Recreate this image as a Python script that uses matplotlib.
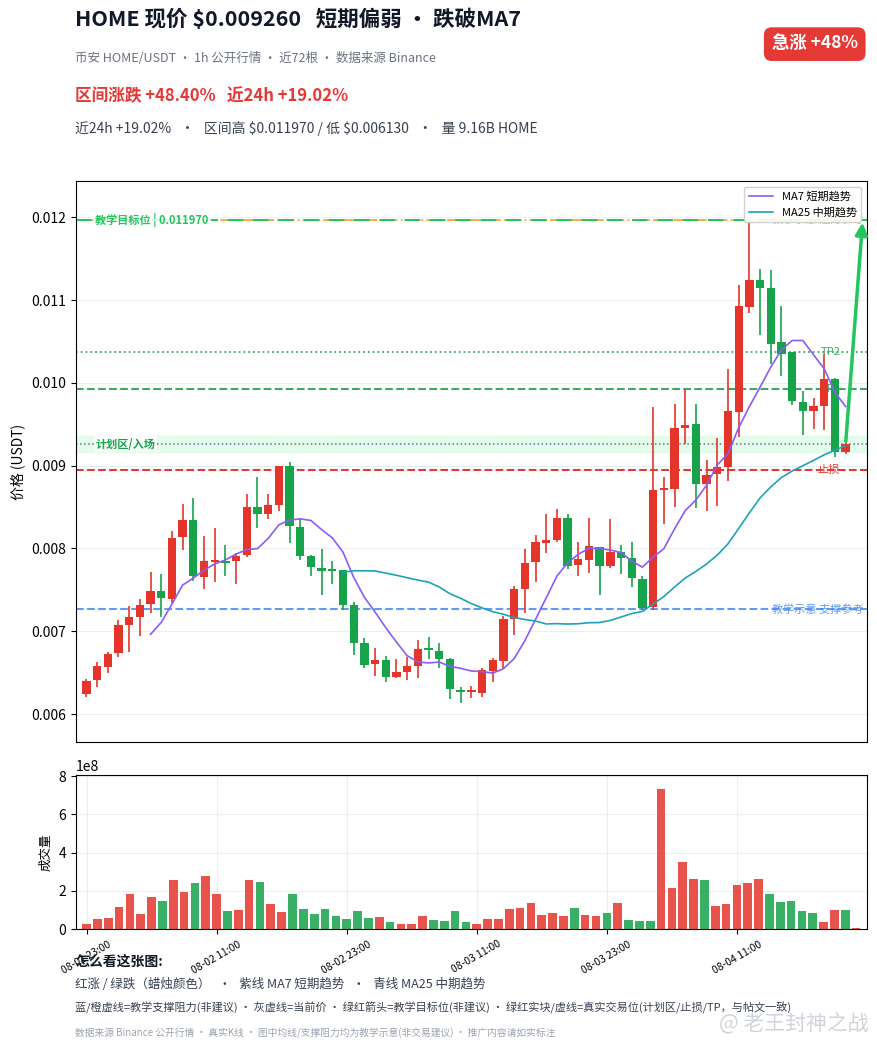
import numpy as np
import pandas as pd
import matplotlib
matplotlib.use("Agg")
import matplotlib.pyplot as plt

plt.rcParams['font.family'] = ['Noto Sans CJK SC', 'DejaVu Sans']
plt.rcParams['axes.unicode_minus'] = False

# 1h candles HOME/USDT, 72 bars from 08-01 23:00
opens = [0.006241, 0.006410, 0.006567, 0.006736, 0.007074, 0.007171, 0.007328, 0.007485, 0.007388, 0.008133,
         0.008338, 0.007650, 0.007831, 0.007843, 0.007843, 0.007916, 0.008495, 0.008422, 0.008519, 0.008990,
         0.008253, 0.007903, 0.007759, 0.007747, 0.007734, 0.007314, 0.006855, 0.006602, 0.006650, 0.006445,
         0.006505, 0.006578, 0.006795, 0.006759, 0.006662, 0.006290, 0.006266, 0.006253, 0.006519, 0.006640,
         0.007145, 0.007507, 0.007831, 0.008060, 0.008097, 0.008362, 0.007795, 0.007855, 0.008012, 0.007783,
         0.007952, 0.007879, 0.007626, 0.007290, 0.008710, 0.008722, 0.009459, 0.009507, 0.008783, 0.008903,
         0.008988, 0.009650, 0.010916, 0.011241, 0.011145, 0.010493, 0.010374, 0.009771, 0.009662, 0.009722,
         0.010048, 0.009169]
highs = [0.006422, 0.006628, 0.006748, 0.007135, 0.007304, 0.007388, 0.007714, 0.007690, 0.008205, 0.008531,
         0.008604, 0.008145, 0.008241, 0.008036, 0.007940, 0.008652, 0.008857, 0.008652, 0.008990, 0.009038,
         0.008362, 0.007916, 0.007988, 0.007843, 0.007734, 0.007350, 0.006916, 0.006795, 0.006698, 0.006662,
         0.006686, 0.006891, 0.006928, 0.006855, 0.006674, 0.006326, 0.006338, 0.006555, 0.006676, 0.007181,
         0.007543, 0.007988, 0.008157, 0.008422, 0.008471, 0.008410, 0.008072, 0.008362, 0.008012, 0.008350,
         0.008036, 0.008072, 0.007662, 0.009710, 0.008867, 0.009747, 0.009928, 0.009747, 0.009072, 0.009338,
         0.010169, 0.011181, 0.011970, 0.011374, 0.011362, 0.010928, 0.010374, 0.009903, 0.009819, 0.010350,
         0.010060, 0.009278]
lows = [0.006205, 0.006326, 0.006495, 0.006688, 0.006748, 0.006941, 0.007219, 0.007171, 0.007340, 0.007976,
        0.007602, 0.007505, 0.007590, 0.007662, 0.007565, 0.007891, 0.008241, 0.008350, 0.008447, 0.008060,
        0.007855, 0.007662, 0.007433, 0.007565, 0.007252, 0.006710, 0.006553, 0.006457, 0.006384, 0.006433,
        0.006409, 0.006433, 0.006662, 0.006553, 0.006181, 0.006130, 0.006193, 0.006205, 0.006386, 0.006555,
        0.006952, 0.007217, 0.007590, 0.007940, 0.008072, 0.007747, 0.007662, 0.007698, 0.007433, 0.007759,
        0.007686, 0.007529, 0.007253, 0.007253, 0.008290, 0.008505, 0.009266, 0.008493, 0.008457, 0.008517,
        0.008819, 0.009350, 0.010843, 0.010578, 0.010228, 0.010084, 0.009734, 0.009372, 0.009445, 0.009433,
        0.009109, 0.009145]
closes = [0.006398, 0.006579, 0.006724, 0.007074, 0.007171, 0.007316, 0.007485, 0.007400, 0.008121, 0.008338,
          0.007662, 0.007843, 0.007843, 0.007819, 0.007903, 0.008495, 0.008422, 0.008519, 0.008990, 0.008266,
          0.007903, 0.007771, 0.007722, 0.007722, 0.007312, 0.006855, 0.006590, 0.006650, 0.006445, 0.006505,
          0.006578, 0.006783, 0.006771, 0.006662, 0.006302, 0.006266, 0.006278, 0.006531, 0.006652, 0.007145,
          0.007507, 0.007819, 0.008072, 0.008097, 0.008362, 0.007783, 0.007867, 0.008024, 0.007783, 0.007952,
          0.007879, 0.007638, 0.007278, 0.008710, 0.008734, 0.009459, 0.009495, 0.008783, 0.008891, 0.008988,
          0.009662, 0.010928, 0.011241, 0.011145, 0.010469, 0.010350, 0.009783, 0.009662, 0.009722, 0.010048,
          0.009169, 0.009260]
volumes = [0.28e8, 0.54e8, 0.59e8, 1.16e8, 1.83e8, 0.79e8, 1.68e8, 1.47e8, 2.56e8, 1.93e8,
           2.40e8, 2.76e8, 1.83e8, 0.95e8, 1.00e8, 2.56e8, 2.45e8, 1.31e8, 0.90e8, 1.83e8,
           1.05e8, 0.79e8, 1.05e8, 0.69e8, 0.54e8, 0.95e8, 0.59e8, 0.64e8, 0.38e8, 0.28e8,
           0.28e8, 0.69e8, 0.48e8, 0.43e8, 0.95e8, 0.38e8, 0.28e8, 0.54e8, 0.54e8, 1.05e8,
           1.10e8, 1.36e8, 0.74e8, 0.85e8, 0.69e8, 1.10e8, 0.74e8, 0.69e8, 0.85e8, 1.36e8,
           0.48e8, 0.43e8, 0.43e8, 7.32e8, 2.14e8, 3.49e8, 2.61e8, 2.56e8, 1.21e8, 1.31e8,
           2.30e8, 2.40e8, 2.61e8, 1.83e8, 1.42e8, 1.47e8, 0.95e8, 0.85e8, 0.38e8, 1.00e8,
           1.00e8, 0.07e8]
tick_pos = [0, 12, 24, 36, 48, 60]
tick_labels = ['08-01 23:00', '08-02 11:00', '08-02 23:00', '08-03 11:00', '08-03 23:00', '08-04 11:00']

# levels
cur_price = 0.009260
target = 0.011970
support = 0.007265
tp1 = 0.009920
tp2 = 0.010370
stop = 0.008950
zone_lo, zone_hi = 0.009160, 0.009360

RED = '#e5352b'
GREEN = '#16a34a'

df = pd.DataFrame({'o': opens, 'h': highs, 'l': lows, 'c': closes, 'v': volumes})
df['ma7'] = df['c'].rolling(7).mean()
df['ma25'] = df['c'].rolling(25).mean()
x = np.arange(len(df))
up = df['c'] >= df['o']
colors = np.where(up, RED, GREEN)

fig = plt.figure(figsize=(8.77, 10.51), dpi=100)
ax = fig.add_axes([0.0863, 0.294, 0.9023, 0.5338])
axv = fig.add_axes([0.0863, 0.1158, 0.9023, 0.1468])

# candles
ax.vlines(x, df['l'], df['h'], colors=colors, lw=1.2, zorder=3)
body = np.maximum((df['c'] - df['o']).abs(), 0.000025)
ax.bar(x, body, bottom=np.minimum(df['o'], df['c']), width=0.78, color=colors, zorder=4)

ax.plot(x, df['ma7'], color='#8b5cf6', lw=1.2, label='MA7 短期趋势', zorder=5)
ax.plot(x, df['ma25'], color='#1fa2b8', lw=1.2, label='MA25 中期趋势', zorder=5)

# levels / zones (under the candles)
yt = ax.get_yaxis_transform()
ax.axhspan(zone_lo, zone_hi, color='#dcfce7', alpha=0.8, zorder=1)
ax.axhline(cur_price, color='#6b7280', ls=':', lw=1.1, zorder=2)
ax.axhline(target, color='#f59e0b', ls='-.', lw=1.4, alpha=0.8, zorder=2)
ax.axhline(target, color='#22c55e', ls=(0, (8, 5)), lw=1.4, zorder=2)
ax.axhline(support, color='#3b82f6', ls='--', lw=1.5, alpha=0.8, zorder=2)
ax.axhline(tp2, color='#3fa864', ls=':', lw=1.3, zorder=2)
ax.axhline(tp1, color='#3fa864', ls='--', lw=1.5, zorder=2)
ax.axhline(stop, color='#e53935', ls='--', lw=1.5, zorder=2)

ax.text(0.025, target, '教学目标位 ¦ 0.011970', transform=yt, ha='left', va='center',
        fontsize=8, fontweight='bold', color='#22c55e', zorder=2,
        bbox=dict(boxstyle='square,pad=0.15', fc='white', ec='none', alpha=0.85))
ax.text(0.025, cur_price, '计划区/入场', transform=yt, ha='left', va='center',
        fontsize=8, fontweight='bold', color='#16a34a', zorder=2,
        bbox=dict(boxstyle='square,pad=0.15', fc='white', ec='none', alpha=0.85))
ax.text(0.995, target, '教学示意 阻力参考', transform=yt, ha='right', va='center',
        fontsize=8, color='#f59e0b', alpha=0.8, zorder=1)
ax.text(0.995, support, '教学示意 支撑参考', transform=yt, ha='right', va='center',
        fontsize=8, color='#3b82f6', alpha=0.8, zorder=1)
ax.text(0.966, tp2, 'TP2', transform=yt, ha='right', va='center', fontsize=8, color='#3fa864', zorder=2)
ax.text(0.966, tp1, 'TP1', transform=yt, ha='right', va='center', fontsize=8, color='#3fa864', zorder=2)
ax.text(0.966, stop, '止损', transform=yt, ha='right', va='center', fontsize=8, color='#e53935', zorder=2)

ax.annotate('', xy=(72.6, target), xytext=(71, cur_price),
            arrowprops=dict(arrowstyle='-|>', color='#22c55e', lw=2.5, mutation_scale=18), zorder=6)

lo, hi = df['l'].min(), df['h'].max()
rng = hi - lo
ax.set_ylim(lo - 0.08 * rng, hi + 0.08 * rng)
ax.set_xlim(-1, 73)
ax.set_xticks([])
ax.set_yticks([0.006, 0.007, 0.008, 0.009, 0.010, 0.011, 0.012])
ax.set_ylabel('价格 (USDT)', fontsize=10)
ax.tick_params(labelsize=10)
ax.grid(axis='y', color='#e5e7eb', lw=0.8, alpha=0.7)
ax.legend(loc='upper right', fontsize=8, framealpha=0.9, handlelength=2.2)

# volume
axv.bar(x, df['v'], width=0.8, color=colors, alpha=0.85)
axv.set_xlim(-1, 72)
axv.set_ylim(0, df['v'].max() * 1.1)
axv.set_yticks([0, 2e8, 4e8, 6e8, 8e8])
axv.set_xticks(tick_pos)
axv.set_xticklabels(tick_labels, rotation=30, ha='center', fontsize=7.5)
axv.set_ylabel('成交量', fontsize=9)
axv.tick_params(axis='y', labelsize=10)
axv.grid(color='#e5e7eb', lw=0.8, alpha=0.7)
axv.set_axisbelow(True)

# header
fig.text(0.0855, 0.982, 'HOME 现价 $0.009260   短期偏弱 • 跌破MA7', fontsize=15.5, fontweight='bold',
         color='#111827', ha='left', va='center')
fig.text(0.0855, 0.944, '币安 HOME/USDT · 1h 公开行情 · 近72根 · 数据来源 Binance', fontsize=9,
         color='#6b7280', ha='left', va='center')
fig.text(0.0855, 0.909, '区间涨跌 +48.40%   近24h +19.02%', fontsize=12, fontweight='bold',
         color='#e53935', ha='left', va='center')
fig.text(0.0855, 0.878, r'近24h +19.02%   ·   区间高 \$0.011970 / 低 \$0.006130   ·   量 9.16B HOME',
         fontsize=10, color='#374151', ha='left', va='center')
fig.text(0.929, 0.958, '急涨 +48%', fontsize=12.5, fontweight='bold', color='white', ha='center', va='center',
         bbox=dict(boxstyle='round,pad=0.45', fc='#e53935', ec='none'))

# footer
fig.text(0.0855, 0.085, '怎么看这张图:', fontsize=10, fontweight='bold', color='#111827', ha='left', va='center')
fig.text(0.0855, 0.063, '红涨 / 绿跌（蜡烛颜色）   ·   紫线 MA7 短期趋势   ·   青线 MA25 中期趋势',
         fontsize=9, color='#374151', ha='left', va='center')
fig.text(0.0855, 0.041, '蓝/橙虚线=教学支撑阻力(非建议) · 灰虚线=当前价 · 绿红箭头=教学目标位(非建议) · '
         '绿红实块/虚线=真实交易位(计划区/止损/TP，与帖文一致)', fontsize=8, color='#374151', ha='left', va='center')
fig.text(0.0855, 0.017, '数据来源 Binance 公开行情 · 真实K线 · 图中均线/支撑阻力均为教学示意(非交易建议) · 推广内容请如实标注',
         fontsize=7, color='#9ca3af', ha='left', va='center')
fig.text(0.99, 0.025, '@ 老王封神之战', fontsize=15, color='#d1d5db', ha='right', va='center')

fig.savefig('out.png', dpi=100)
